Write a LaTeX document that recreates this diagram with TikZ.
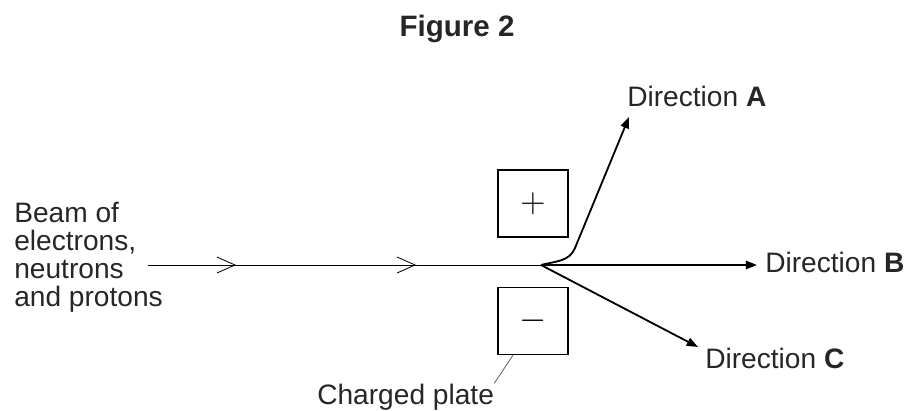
\documentclass[tikz,border=0pt]{standalone}
\usepackage{fontspec}
\setmainfont{Liberation Sans}
\usetikzlibrary{arrows.meta}

\begin{document}
\begin{tikzpicture}[x=0.025cm,y=-0.025cm,
    txt/.style={inner sep=0pt,anchor=base west,text=black!85,font=\fontsize{20}{20}\selectfont},
    plate/.style={draw,line width=0.9pt,minimum width=1.75cm,minimum height=1.675cm,inner sep=0pt},
    ray/.style={line width=1.3pt,-{Triangle[length=8pt,width=6pt]}}]
            \useasboundingbox (0,0) rectangle (911,411);

            \node[txt,anchor=base,font=\fontsize{21}{21}\selectfont\bfseries] (title) at (457,37) {Figure 2};

            \node[plate] (plus) at (533,203.5) {\fontsize{24}{24}\selectfont$+$};
            \node[plate] (minus) at (533,321) {\fontsize{24}{24}\selectfont$-$};

            \node[txt,align=left] (beam) at (14,307) {Beam of\\electrons,\\neutrons\\and protons};
            \node[txt] (dirA) at (627,107) {Direction \textbf{A}};
            \node[txt] (dirB) at (765,273) {Direction \textbf{B}};
            \node[txt] (dirC) at (705,368) {Direction \textbf{C}};
            \node[txt] (label) at (317,404) {Charged plate};

            \coordinate (src) at (148,265);
            \coordinate (split) at (541,265);
            \coordinate (bend) at (575,248);
            \coordinate (endA) at (629,117);
            \coordinate (endB) at (757,265);
            \coordinate (endC) at (698,347);

            % incoming beam
            \draw[line width=0.6pt] (src) -- (split);
            \foreach \x in {235,415}
                \draw[line width=0.6pt] (\x-18,257) -- (\x,265) -- (\x-18,273);

            % deflected beams
            \draw[ray] (split) to[out=15,in=248] (bend) -- (endA);
            \draw[ray] (split) -- (endB);
            \draw[ray] (split) -- (endC);

            \draw[line width=0.5pt,black!70] ([xshift=-0.5cm]minus.south) -- (label.north east);
        \end{tikzpicture}
\end{document}
